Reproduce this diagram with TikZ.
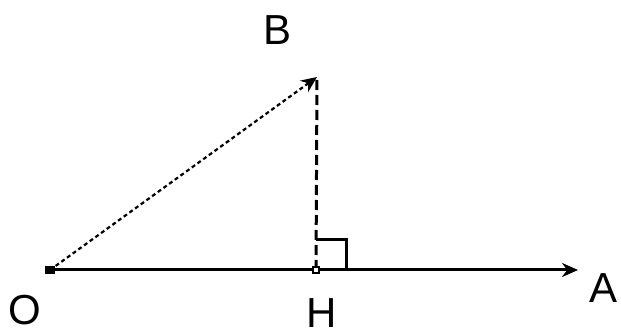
\documentclass[tikz,border=0pt]{standalone}
\usepackage{fontspec}
\setmainfont{Liberation Sans}
\usetikzlibrary{arrows.meta}
\tikzset{
  lbl/.style={inner sep=0pt, font=\fontsize{42}{42}\selectfont},
  seg/.style={line width=3pt},
}
\begin{document}
\begin{tikzpicture}[x=1pt,y=-1pt,line cap=butt,>={Stealth[length=16pt,width=14pt]}]
  \useasboundingbox (0,0) rectangle (621,336);
  \coordinate (O) at (50,270);
  \coordinate (H) at (316,270);
  \coordinate (A) at (578,270);
  \coordinate (B) at (317,77);
  % projection
  \draw[seg, dash pattern=on 10pt off 5pt] (H) -- (B);
  \draw[seg] ([yshift=30pt]H) -- ++(30,0) -- ++(0,30);
  \draw[seg, ->] (O) -- (A);
  \draw[line width=2.2pt, dash pattern=on 4pt off 3pt, ->] (O) -- (B);
  \fill (O) ++(-5,-4) rectangle ++(10,8);
  \filldraw[fill=white, line width=2.2pt] (H) ++(-3,-3) rectangle ++(6,6);
  \node[lbl] (lO) at (25,310) {O};
  \node[lbl] (lB) at (278,30) {B};
  \node[lbl] (lH) at (322,313) {H};
  \node[lbl] (lA) at (603,288) {A};
\end{tikzpicture}
\end{document}
